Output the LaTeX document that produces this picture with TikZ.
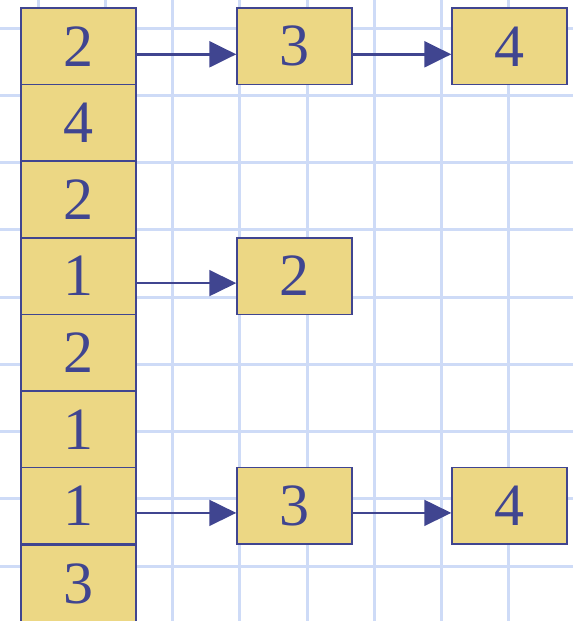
\documentclass[tikz,border=0pt]{standalone}
\usepackage{fontspec}
\setmainfont{Liberation Serif}
\usetikzlibrary{arrows.meta}
\definecolor{gridc}{RGB}{206,219,247}
\definecolor{boxfill}{RGB}{236,215,132}
\definecolor{navy}{RGB}{64,69,144}
\tikzset{
  cell/.style={draw=navy, line width=1.5pt, fill=boxfill, text=navy, inner sep=0pt,
    minimum width=115pt, minimum height=76.6pt, font=\fontsize{60}{60}\selectfont},
  ptr/.style={draw=navy, line width=2pt, -{Triangle[length=27pt,width=26pt]}}
}
\begin{document}
\begin{tikzpicture}[x=1pt,y=-1pt]
\useasboundingbox (0,0) rectangle (573,621);
\clip (0,0) rectangle (573,621);
\fill[white] (0,0) rectangle (573,621);
% grid
\foreach \k in {0,...,7} {
  \draw[gridc, line width=3pt] (38+67.25*\k,0) -- (38+67.25*\k,621);
}
\foreach \k in {0,...,8} {
  \draw[gridc, line width=3pt] (0,28+67.25*\k) -- (573,28+67.25*\k);
}
% left column
\node[cell] (L1) at (78.5,46.3) {2};
\node[cell] (L2) at (78.5,122.9) {4};
\node[cell] (L3) at (78.5,199.5) {2};
\node[cell] (L4) at (78.5,276.1) {1};
\node[cell] (L5) at (78.5,352.7) {2};
\node[cell] (L6) at (78.5,429.3) {1};
\node[cell] (L7) at (78.5,505.9) {1};
\node[cell] (L8) at (78.5,584.0) {3};
% right lists
\node[cell] (A1) at (294.5,46.3) {3};
\node[cell] (A2) at (509.5,46.3) {4};
\node[cell] (B1) at (294.5,276.1) {2};
\node[cell] (C1) at (294.5,505.9) {3};
\node[cell] (C2) at (509.5,505.9) {4};
% pointers
\draw[ptr, line width=2.4pt] ([yshift=-8pt]L1.east) -- ([yshift=-8pt]A1.west);
\draw[ptr, line width=2.4pt] ([yshift=-8pt]A1.east) -- ([yshift=-8pt]A2.west);
\draw[ptr, line width=1.8pt] ([yshift=-7pt]L4.east) -- ([yshift=-7pt]B1.west);
\draw[ptr, line width=1.8pt] ([yshift=-7pt]L7.east) -- ([yshift=-7pt]C1.west);
\draw[ptr, line width=1.8pt] ([yshift=-7pt]C1.east) -- ([yshift=-7pt]C2.west);
\end{tikzpicture}
\end{document}
